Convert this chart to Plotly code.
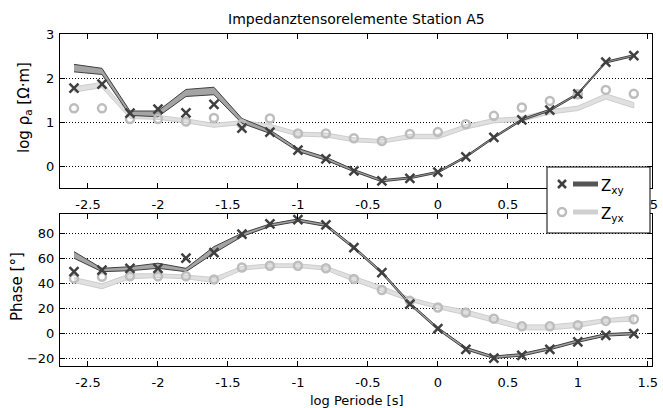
import plotly.graph_objects as go

# ---------------- data ----------------
log_period = [-2.6, -2.4, -2.2, -2.0, -1.8, -1.6, -1.4, -1.2, -1.0, -0.8, -0.6,
              -0.4, -0.2, 0.0, 0.2, 0.4, 0.6, 0.8, 1.0, 1.2, 1.4]

# apparent resistivity (log10), measured
rho_xy = [1.77, 1.86, 1.20, 1.29, 1.21, 1.40, 0.86, 0.77, 0.36, 0.16, -0.11,
          -0.34, -0.28, -0.14, 0.21, 0.65, 1.05, 1.27, 1.64, 2.36, 2.51]
rho_yx = [1.31, 1.31, 1.07, 1.07, 1.01, 1.09, 0.95, 1.08, 0.74, 0.74, 0.63,
          0.57, 0.73, 0.77, 0.95, 1.14, 1.33, 1.48, 1.63, 1.73, 1.64]

# model bands (lower / upper)
rho_xy_lo = [2.14, 2.08, 1.15, 1.12, 1.58, 1.62, 0.97, 0.74, 0.33, 0.13, -0.13,
             -0.36, -0.29, -0.16, 0.19, 0.63, 1.03, 1.25, 1.62, 2.34, 2.49]
rho_xy_hi = [2.31, 2.22, 1.25, 1.25, 1.74, 1.79, 1.08, 0.82, 0.40, 0.20, -0.08,
             -0.31, -0.25, -0.12, 0.23, 0.67, 1.07, 1.29, 1.66, 2.38, 2.53]
rho_yx_lo = [1.68, 1.78, 1.08, 1.06, 0.98, 0.88, 0.94, 0.86, 0.68, 0.66, 0.55,
             0.52, 0.62, 0.62, 0.84, 0.98, 1.02, 1.18, 1.26, 1.52, 1.32]
rho_yx_hi = [1.80, 1.90, 1.18, 1.15, 1.07, 0.97, 1.03, 0.95, 0.77, 0.75, 0.64,
             0.60, 0.72, 0.72, 0.94, 1.08, 1.12, 1.28, 1.36, 1.64, 1.44]

# phase (degrees), measured
phi_xy = [49.7, 51.0, 52.4, 52.4, 60.5, 65.0, 79.8, 88.0, 91.4, 87.3, 69.0,
          48.9, 23.6, 4.0, -12.7, -19.6, -17.5, -12.7, -6.7, -1.4, 0.0]
phi_yx = [44.3, 45.7, 46.0, 46.0, 46.0, 43.5, 53.0, 54.5, 54.5, 52.4, 43.8,
          35.0, 26.3, 21.0, 17.0, 12.0, 5.9, 5.9, 6.7, 10.2, 11.5]

phi_xy_lo = [60.5, 49.7, 50.5, 52.4, 49.7, 64.5, 77.9, 86.0, 90.0, 86.0, 68.0,
             48.0, 23.0, 3.0, -13.0, -20.0, -18.0, -13.0, -7.0, -2.0, -1.0]
phi_xy_hi = [65.8, 52.4, 53.7, 56.5, 52.4, 69.8, 80.6, 88.0, 92.0, 88.0, 70.0,
             50.0, 25.0, 5.0, -11.0, -18.0, -16.0, -11.0, -5.0, 0.0, 1.0]
phi_yx_lo = [41, 36, 44, 45, 44, 41, 51, 53, 53, 51, 42,
             34, 26, 20, 15, 9, 3, 3, 5, 9, 10]
phi_yx_hi = [45, 40, 48, 48, 47, 45, 54, 56, 56, 54, 46,
             38, 29, 23, 19, 13, 7, 7, 9, 12, 14]

x_ticks = [-2.5, -2, -1.5, -1, -0.5, 0, 0.5, 1, 1.5]
x_ticktext = ["-2.5", "-2", "-1.5", "-1", "-0.5", "0", "0.5", "1", "1.5"]
rho_ticks = [0, 1, 2, 3]
phi_ticks = [-20, 0, 20, 40, 60, 80]

title_text = "Impedanztensorelemente Station A5"
legend_names = ["Z<sub>xy</sub>", "Z<sub>yx</sub>"]

# ---------------- style ----------------
XY_EDGE = "#404040"
XY_FILL = "#a4a4a4"
XY_MARK = "#404040"
YX_EDGE = "#cdcdcd"
YX_FILL = "#e0e0e0"
YX_MARK = "#bdbdbd"
FONT = "DejaVu Sans, Liberation Sans, Arial, sans-serif"

W, H = 663, 408


def px_x(p):
    return p / W


def px_y(p):
    return 1 - p / H


fig = go.Figure()


def band(lo, hi, edge, fill, xa, ya, width=1):
    fig.add_trace(go.Scatter(
        x=log_period + log_period[::-1], y=hi + lo[::-1],
        mode="lines", fill="toself", fillcolor=fill,
        line=dict(color=edge, width=width), xaxis=xa, yaxis=ya,
        showlegend=False, hoverinfo="skip"))


def marks(y, sym, color, xa, ya, size, lw):
    fig.add_trace(go.Scatter(
        x=log_period, y=y, mode="markers", xaxis=xa, yaxis=ya,
        marker=dict(symbol=sym, size=size, color=color,
                    line=dict(color=color, width=lw)),
        showlegend=False))


# top panel
band(rho_yx_lo, rho_yx_hi, YX_EDGE, YX_FILL, "x", "y")
band(rho_xy_lo, rho_xy_hi, XY_EDGE, XY_FILL, "x", "y")
marks(rho_yx, "circle-open", YX_MARK, "x", "y", 8, 2.5)
marks(rho_xy, "x-thin", XY_MARK, "x", "y", 9, 2.5)
# bottom panel
band(phi_yx_lo, phi_yx_hi, YX_EDGE, YX_FILL, "x2", "y2")
band(phi_xy_lo, phi_xy_hi, XY_EDGE, XY_FILL, "x2", "y2")
marks(phi_yx, "circle-open", YX_MARK, "x2", "y2", 8, 2.5)
marks(phi_xy, "x-thin", XY_MARK, "x2", "y2", 9, 2.5)

xdom = [px_x(60), px_x(652)]
common_x = dict(range=[-2.7, 1.53], tickvals=x_ticks, ticktext=x_ticktext,
                ticks="inside", ticklen=5, tickcolor="black", mirror="ticks",
                showline=True, linecolor="black", linewidth=1, showgrid=False,
                zeroline=False, domain=xdom, tickfont=dict(size=13),
                ticklabelstandoff=4, automargin=False)
common_y = dict(ticks="inside", ticklen=5, tickcolor="black", mirror="ticks",
                showline=True, linecolor="black", linewidth=1, showgrid=True,
                gridcolor="black", gridwidth=1, griddash="1px,2px",
                zeroline=False, tickfont=dict(size=13), ticklabelstandoff=2,
                automargin=False)

fig.update_layout(
    template="none",
    width=W, height=H,
    margin=dict(l=0, r=0, t=0, b=0, pad=0, autoexpand=False),
    paper_bgcolor="white", plot_bgcolor="white",
    font=dict(family=FONT, size=13, color="black"),
    showlegend=False,
    xaxis=dict(**common_x, anchor="y"),
    xaxis2=dict(**common_x, anchor="y2"),
    yaxis=dict(**common_y, range=[-0.5, 3], tickvals=rho_ticks,
               domain=[px_y(188), px_y(34)], anchor="x"),
    yaxis2=dict(**common_y, range=[-26, 96], tickvals=phi_ticks,
                domain=[px_y(366), px_y(214)], anchor="x2"),
)


def label(text, x, y, size, angle=0, xanchor="center"):
    return dict(text=text, x=px_x(x), y=px_y(y), xref="paper", yref="paper",
                xanchor=xanchor, yanchor="middle", textangle=angle,
                showarrow=False, font=dict(size=size))


ann = [
    label(title_text, 356, 19, 14),
    label("log ρ<sub>a</sub> [Ω·m]", 25, 108, 15, -90),
    label("Phase [°]", 17, 287, 15, -90),
    label("log Periode [s]", 357, 400, 13),
]

# manual legend box
shapes = [
    dict(type="rect", xref="paper", yref="paper", x0=px_x(547), x1=px_x(650),
         y0=px_y(233), y1=px_y(167), fillcolor="white",
         line=dict(color="black", width=1), layer="above"),
    dict(type="line", xref="paper", yref="paper", x0=px_x(573), x1=px_x(598),
         y0=px_y(184), y1=px_y(184), line=dict(color="#555555", width=5),
         layer="above"),
    dict(type="line", xref="paper", yref="paper", x0=px_x(573), x1=px_x(598),
         y0=px_y(212), y1=px_y(212), line=dict(color="#d0d0d0", width=5),
         layer="above"),
    dict(type="line", xref="paper", yref="paper", x0=px_x(558), x1=px_x(566),
         y0=px_y(180), y1=px_y(188), line=dict(color=XY_MARK, width=2.5),
         layer="above"),
    dict(type="line", xref="paper", yref="paper", x0=px_x(558), x1=px_x(566),
         y0=px_y(188), y1=px_y(180), line=dict(color=XY_MARK, width=2.5),
         layer="above"),
    dict(type="circle", xref="paper", yref="paper", x0=px_x(558), x1=px_x(566),
         y0=px_y(216), y1=px_y(208), line=dict(color=YX_MARK, width=2.5),
         layer="above"),
]
for i, name in enumerate(legend_names):
    ann.append(label(name, 599, 187 + 27 * i, 15, xanchor="left"))

fig.update_layout(annotations=ann, shapes=shapes)
fig.write_html("out.html")
